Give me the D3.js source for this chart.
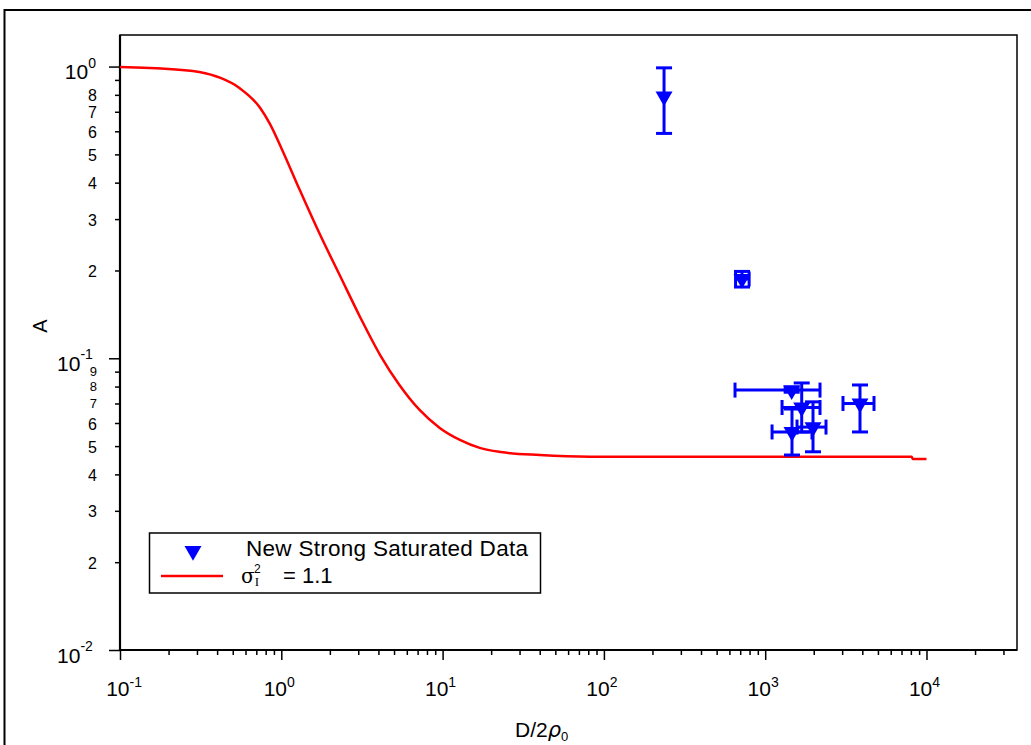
<!DOCTYPE html>
<html>
<head>
<meta charset="utf-8">
<script src="https://cdn.jsdelivr.net/npm/d3@7"></script>
<style>
  body { margin: 0; background: #fff; }
  text { font-family: "Liberation Sans", Arial, sans-serif; fill: #000; }
</style>
</head>
<body>
<svg id="chart" width="1031" height="745"></svg>
<script>
// Model curve: aperture averaging factor A versus D/2rho0 (sigma_I^2 = 1.1)
const curveX = [0.1, 0.14, 0.18, 0.31, 0.42, 0.55, 0.74, 0.85, 1.0, 1.3, 1.74, 2.3, 3.1, 4.1, 5.4, 7.2, 9.6, 12.8, 17, 23, 40, 82, 8100, 8200, 10000];
const curveA = [0.997, 0.99, 0.985, 0.958, 0.914, 0.845, 0.721, 0.636, 0.526, 0.378, 0.265, 0.193, 0.1375, 0.1026, 0.081, 0.0665, 0.0577, 0.0525, 0.0493, 0.0477, 0.0466, 0.046, 0.046, 0.0452, 0.0452];

// Measured points with error bars
const pointX  = [236, 718, 1459, 1684, 1466, 1979, 3870];
const pointA  = [0.79, 0.187, 0.0778, 0.0678, 0.0559, 0.0581, 0.070];
const xLow    = [236, 655, 650, 1272, 1103, 1575, 3036];
const xHigh   = [236, 795, 2187, 2187, 1950, 2382, 4727];
const aLow    = [0.59, 0.1755, 0.0765, 0.0559, 0.0466, 0.0478, 0.0559];
const aHigh   = [0.99, 0.1985, 0.0795, 0.0823, 0.067, 0.0709, 0.081];

// Axis ticks
const xMajorExp = [-1, 0, 1, 2, 3, 4];
const yMajorExp = [-2, -1, 0];
const yMinorLabelValues = [0.02, 0.03, 0.04, 0.05, 0.06, 0.07, 0.08, 0.09, 0.2, 0.3, 0.4, 0.5, 0.6, 0.7, 0.8];

const legendLabels = ["New Strong Saturated Data", "= 1.1"];

const svg = d3.select("#chart");
const mLeft = 120, mRight = 1017, mTop = 35, mBottom = 650;
const x = d3.scaleLog().domain([0.1, 36400]).range([mLeft, mRight]);
const y = d3.scaleLog().domain([0.01, 1.283]).range([mBottom, mTop]);

const blue = "#0000ff", red = "#ff0000", ink = "#222";

// outer frame
svg.append("rect").attr("x", 4.5).attr("y", 10).attr("width", 1040).attr("height", 760)
  .attr("fill", "none").attr("stroke", "#000").attr("stroke-width", 2);

// plot frame
svg.append("rect").attr("x", mLeft).attr("y", mTop).attr("width", mRight - mLeft).attr("height", mBottom - mTop)
  .attr("fill", "none").attr("stroke", "#000").attr("stroke-width", 1.5);

// minor tick values
function minorValues(scale) {
  const [a, b] = scale.domain();
  const out = [];
  for (let e = Math.floor(Math.log10(a)); e <= Math.ceil(Math.log10(b)); e++) {
    for (let k = 2; k <= 9; k++) {
      const v = k * Math.pow(10, e);
      if (v >= a && v <= b) out.push(v);
    }
  }
  return out;
}

function styleAxis(g) {
  g.select(".domain").remove();
  g.selectAll(".tick line").attr("stroke", "#000").attr("stroke-width", 1.5);
  g.selectAll(".tick text").remove();
}

// x axis ticks
svg.append("g").attr("transform", `translate(0,${mBottom})`)
  .call(d3.axisBottom(x).tickValues(minorValues(x)).tickSize(5).tickFormat(""))
  .call(styleAxis);
svg.append("g").attr("transform", `translate(0,${mBottom})`)
  .call(d3.axisBottom(x).tickValues(xMajorExp.map(e => Math.pow(10, e))).tickSize(10).tickFormat(""))
  .call(styleAxis);

// y axis ticks
svg.append("g").attr("transform", `translate(${mLeft},0)`)
  .call(d3.axisLeft(y).tickValues(minorValues(y)).tickSize(5).tickFormat(""))
  .call(styleAxis);
svg.append("g").attr("transform", `translate(${mLeft},0)`)
  .call(d3.axisLeft(y).tickValues(yMajorExp.map(e => Math.pow(10, e))).tickSize(11).tickFormat(""))
  .call(styleAxis);

// axis lines
svg.append("line").attr("x1", mLeft).attr("x2", mRight).attr("y1", mBottom).attr("y2", mBottom)
  .attr("stroke", "#000").attr("stroke-width", 2.2);
svg.append("line").attr("x1", mLeft).attr("x2", mLeft).attr("y1", mTop).attr("y2", mBottom)
  .attr("stroke", "#000").attr("stroke-width", 2.2);

// x tick labels (powers of ten): base and exponent as separate texts
xMajorExp.forEach(e => {
  const cx = x(Math.pow(10, e)) + 2;
  const expW = String(e).length * 7.5;
  svg.append("text").attr("x", cx + expW / 2).attr("y", 696)
    .attr("text-anchor", "end").attr("font-size", 21).attr("fill", ink).text("10");
  svg.append("text").attr("x", cx + expW / 2).attr("y", 687)
    .attr("text-anchor", "start").attr("font-size", 14).attr("fill", ink).text(String(e));
});

// y tick labels (powers of ten)
yMajorExp.forEach(e => {
  const ty = y(Math.pow(10, e));
  const expW = String(e).length * 7.8;
  svg.append("text").attr("x", 96 - expW).attr("y", ty + 12.5)
    .attr("text-anchor", "end").attr("font-size", 21).attr("fill", ink).text("10");
  svg.append("text").attr("x", 96 - expW).attr("y", ty + 1)
    .attr("text-anchor", "start").attr("font-size", 14).attr("fill", ink).text(String(e));
});

// y minor labels; the crowded 9/8/7 labels just under 10^-1 use a smaller size
yMinorLabelValues.forEach(v => {
  const ty = y(v);
  const m = Math.round(v / Math.pow(10, Math.floor(Math.log10(v) + 1e-9)));
  const crowded = v < 0.1 && m >= 7;
  svg.append("text").attr("x", 97).attr("y", ty + (crowded ? 4.5 : 6.5))
    .attr("text-anchor", "end").attr("font-size", crowded ? 13 : 16).attr("fill", ink)
    .text(String(m));
});

// axis titles
svg.append("text").attr("transform", "translate(47,326) rotate(-90)")
  .attr("text-anchor", "middle").attr("font-size", 20).attr("fill", ink).text("A");
const xt = svg.append("text").attr("x", 515).attr("y", 737).attr("font-size", 21).attr("fill", ink);
xt.append("tspan").text("D/2");
xt.append("tspan").attr("font-style", "italic").attr("font-family", "DejaVu Sans, sans-serif").text("ρ");
xt.append("tspan").attr("font-size", 13).attr("dy", 4).text("0");

// model curve
const line = d3.line().curve(d3.curveMonotoneX).x(d => x(d[0])).y(d => y(d[1]));
svg.append("path").datum(curveX.map((v, i) => [v, curveA[i]]))
  .attr("d", line).attr("fill", "none").attr("stroke", red).attr("stroke-width", 2.5);

// error bars
const pts = pointX.map((v, i) => ({x: v, a: pointA[i], xl: xLow[i], xh: xHigh[i], al: aLow[i], ah: aHigh[i]}));
const eb = svg.append("g").attr("stroke", blue).attr("stroke-width", 3).attr("fill", "none");
const capW = 8, capH = 7.5;
pts.forEach(p => {
  const cx = x(p.x), cy = y(p.a);
  if (p.al !== p.ah) {
    eb.append("line").attr("x1", cx).attr("x2", cx).attr("y1", y(p.al)).attr("y2", y(p.ah));
    [p.al, p.ah].forEach(v => eb.append("line").attr("x1", cx - capW).attr("x2", cx + capW).attr("y1", y(v)).attr("y2", y(v)));
  }
  if (p.xl !== p.xh) {
    eb.append("line").attr("x1", x(p.xl)).attr("x2", x(p.xh)).attr("y1", cy).attr("y2", cy);
    [p.xl, p.xh].forEach(v => eb.append("line").attr("x1", x(v)).attr("x2", x(v)).attr("y1", cy - capH).attr("y2", cy + capH));
  }
});

// markers: downward triangles
const tri = d3.symbol().type(d3.symbolTriangle).size(125);
svg.append("g").selectAll("path").data(pts).join("path")
  .attr("d", tri)
  .attr("transform", p => `translate(${x(p.x)},${y(p.a)}) rotate(180)`)
  .attr("fill", blue);

// legend
const lg = svg.append("g");
lg.append("rect").attr("x", 149.5).attr("y", 533).attr("width", 391).attr("height", 60)
  .attr("fill", "#fff").attr("stroke", "#000").attr("stroke-width", 1.5);
lg.append("path").attr("d", tri).attr("transform", "translate(193,551) rotate(180)").attr("fill", blue);
lg.append("line").attr("x1", 161).attr("x2", 223).attr("y1", 576).attr("y2", 576)
  .attr("stroke", red).attr("stroke-width", 2.5);
lg.append("text").attr("x", 246).attr("y", 556).attr("font-size", 22.5).attr("fill", ink)
  .attr("textLength", 282).attr("lengthAdjust", "spacing").text(legendLabels[0]);
const sg = lg.append("text").attr("x", 241).attr("y", 583).attr("font-size", 22).attr("fill", ink);
sg.append("tspan").attr("font-family", "DejaVu Serif, serif").attr("font-size", 20).text("σ");
sg.append("tspan").attr("font-family", "Liberation Serif, serif").attr("font-size", 13).attr("dy", 3).text("I");
sg.append("tspan").attr("font-size", 12).attr("dx", -5).attr("dy", -13).text("2");
sg.append("tspan").attr("x", 283).attr("dy", 10).text(legendLabels[1]);
</script>
</body>
</html>
